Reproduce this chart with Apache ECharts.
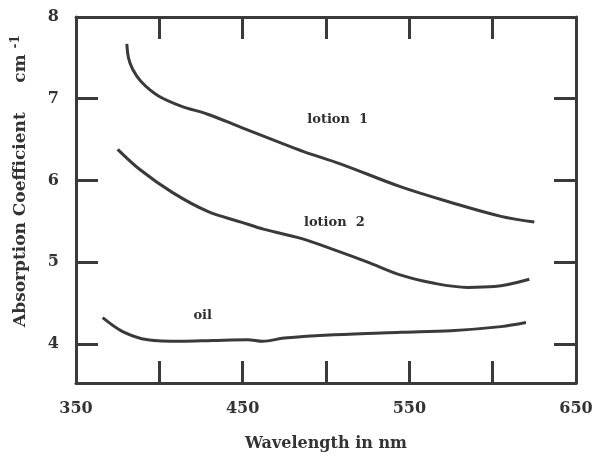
<!DOCTYPE html>
<html>
<head>
<meta charset="utf-8">
<script src="https://cdn.jsdelivr.net/npm/echarts@6/dist/echarts.min.js"></script>
<style>
  html, body { margin: 0; padding: 0; background: #fff; }
</style>
</head>
<body>
<div id="chart" style="width: 592px; height: 456px"></div>
<script>
// values (wavelength in nm, absorption coefficient in cm-1)
var lotion1Wl = [380.5, 381.5, 384, 389, 399, 413, 429, 449, 469, 487, 509, 545, 575, 605, 625];
var lotion1Abs = [7.67, 7.50, 7.36, 7.21, 7.04, 6.91, 6.81, 6.65, 6.49, 6.35, 6.20, 5.92, 5.73, 5.56, 5.49];

var lotion2Wl = [375, 388.5, 408, 429, 449, 463, 485, 505, 525, 545, 565, 585, 601, 622];
var lotion2Abs = [6.38, 6.13, 5.85, 5.62, 5.49, 5.40, 5.29, 5.15, 5.00, 4.84, 4.74, 4.69, 4.70, 4.79];

var oilWl = [366, 378, 393, 413, 432, 453, 462, 475, 505, 545, 575, 605, 620];
var oilAbs = [4.32, 4.15, 4.05, 4.03, 4.04, 4.05, 4.03, 4.07, 4.11, 4.14, 4.16, 4.21, 4.26];

var xLabels = [350, 450, 550, 650];
var xTicks = [400, 450, 500, 550, 600];
var yLabels = [4, 5, 6, 7, 8];
var yTicks = [4, 5, 6, 7];

var curveNames = ['lotion  1', 'lotion  2', 'oil'];
var curveLabelAt = [[507, 6.74], [505, 5.48], [426, 4.34]];

function pairs(xs, ys) {
  return xs.map(function (x, i) { return [x, ys[i]]; });
}

var ink = '#3a3a3a';
var serif = '"DejaVu Serif", "Liberation Serif", serif';

var chart = echarts.init(document.getElementById('chart'));

function lineSeries(name, data, idx) {
  return {
    name: name,
    type: 'line',
    data: data,
    smooth: 0.35,
    symbol: 'none',
    lineStyle: { color: ink, width: 3 },
    markPoint: {
      symbol: 'circle',
      symbolSize: 0,
      label: {
        show: true,
        formatter: curveNames[idx],
        color: '#2e2e2e',
        fontFamily: serif,
        fontWeight: 'bold',
        fontSize: 13,
      },
      data: [{ coord: curveLabelAt[idx] }],
    },
  };
}

var axisLine = { lineStyle: { color: ink, width: 3 } };
var tickStyle = { color: ink, width: 3 };
var labelFont = {
  color: '#333',
  fontFamily: serif,
  fontWeight: 'bold',
  fontSize: 16,
};

chart.setOption({
  backgroundColor: '#fff',
  animation: false,
  grid: {
    left: 76,
    right: 16,
    top: 17,
    bottom: 73,
    outerBoundsMode: 'none',
  },
  xAxis: [
    {
      type: 'value',
      min: 350,
      max: 650,
      position: 'bottom',
      axisLine: axisLine,
      splitLine: { show: false },
      axisTick: {
        inside: true,
        length: 22,
        lineStyle: tickStyle,
        customValues: xTicks,
      },
      axisLabel: Object.assign({ customValues: xLabels, margin: 18 }, labelFont),
      name: 'Wavelength in nm',
      nameLocation: 'middle',
      nameGap: 53,
      nameTextStyle: {
        color: '#333',
        fontFamily: serif,
        fontWeight: 'bold',
        fontSize: 16,
      },
    },
    {
      type: 'value',
      min: 350,
      max: 650,
      position: 'top',
      axisLine: axisLine,
      splitLine: { show: false },
      axisTick: {
        inside: true,
        length: 22,
        lineStyle: tickStyle,
        customValues: xTicks,
      },
      axisLabel: { show: false },
    },
  ],
  yAxis: [
    {
      type: 'value',
      min: 3.52,
      max: 8,
      position: 'left',
      axisLine: { show: true, lineStyle: { color: ink, width: 3 } },
      splitLine: { show: false },
      axisTick: {
        show: true,
        inside: true,
        length: 22,
        lineStyle: tickStyle,
        customValues: yTicks,
      },
      axisLabel: Object.assign({ customValues: yLabels, margin: 17 }, labelFont),
    },
    {
      type: 'value',
      min: 3.52,
      max: 8,
      position: 'right',
      axisLine: { show: true, lineStyle: { color: ink, width: 3 } },
      splitLine: { show: false },
      axisTick: {
        show: true,
        inside: true,
        length: 22,
        lineStyle: tickStyle,
        customValues: yTicks,
      },
      axisLabel: { show: false },
    },
  ],
  graphic: [
    {
      type: 'text',
      x: 21,
      y: 181,
      rotation: Math.PI / 2,
      style: {
        text: 'Absorption Coefficient     cm {sup|-1}',
        fill: '#333',
        font: 'bold 17px ' + serif,
        align: 'center',
        verticalAlign: 'middle',
        rich: {
          sup: {
            fill: '#333',
            font: 'bold 12px ' + serif,
            verticalAlign: 'bottom',
            padding: [0, 0, 10, 0],
          },
        },
      },
    },
  ],
  series: [
    lineSeries('lotion 1', pairs(lotion1Wl, lotion1Abs), 0),
    lineSeries('lotion 2', pairs(lotion2Wl, lotion2Abs), 1),
    lineSeries('oil', pairs(oilWl, oilAbs), 2),
  ],
});
</script>
</body>
</html>
